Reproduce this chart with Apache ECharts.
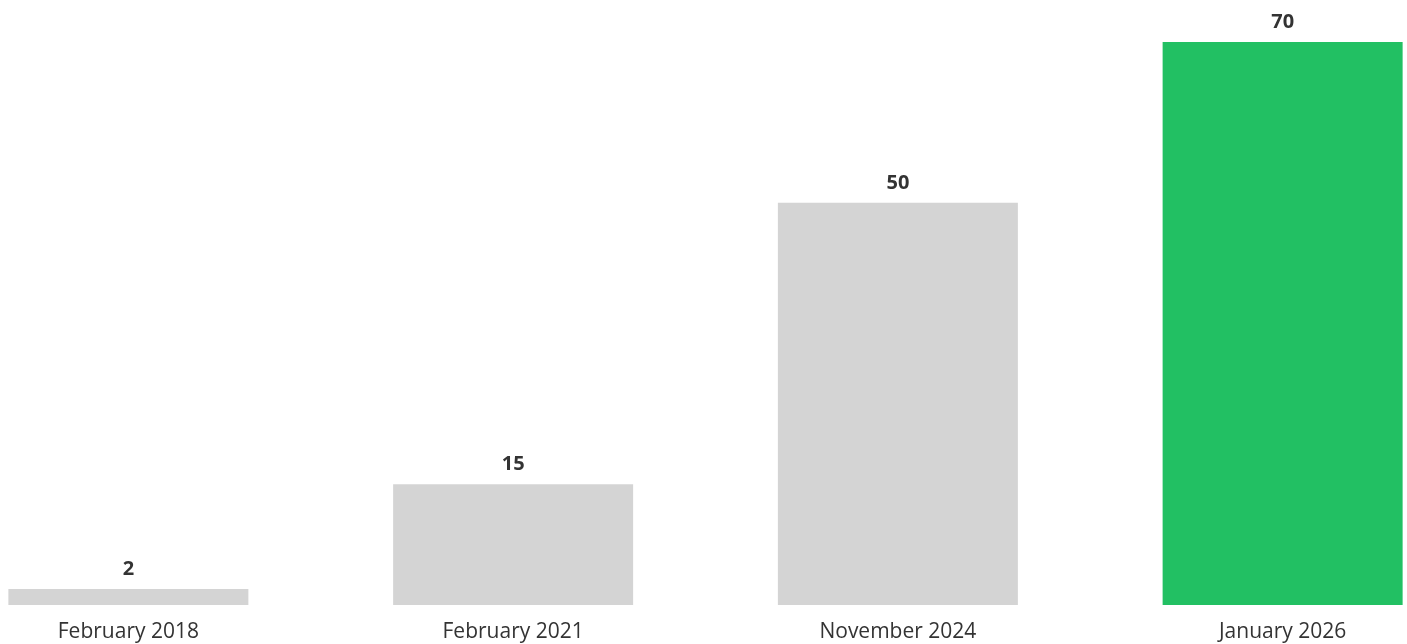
<!DOCTYPE html>
<html>
<head>
<meta charset="utf-8">
<script src="https://cdn.jsdelivr.net/npm/echarts@6/dist/echarts.min.js"></script>
<style>
    html, body { margin: 0; padding: 0; background: #fff; overflow: hidden; }
    /* plot area is wider than the window: outer bars are cut at the edges */
    #chart { width: 1539px; height: 644px; margin-left: -64px; }
</style>
</head>
<body>
<div id="chart"></div>
<script>
const categories = ['February 2018', 'February 2021', 'November 2024', 'January 2026'];
const values = [2, 15, 50, 70];
const barColors = ['#d4d4d4', '#d4d4d4', '#d4d4d4', '#22c063'];

const chart = echarts.init(document.getElementById('chart'));

const option = {
    animation: false,
    grid: {
        left: 0,
        right: 0,
        top: 42,
        bottom: 39,
        containLabel: false
    },
    xAxis: {
        type: 'category',
        data: categories,
        axisLine: { show: false },
        axisTick: { show: false },
        axisLabel: {
            margin: 17,
            fontSize: 21,
            color: '#333',
            fontFamily: 'Open Sans'
        }
    },
    yAxis: {
        type: 'value',
        min: 0,
        max: 70,
        show: false,
        splitLine: { show: false }
    },
    series: [{
        type: 'bar',
        barWidth: 240,
        data: values.map((v, i) => ({ value: v, itemStyle: { color: barColors[i] } })),
        label: {
            show: true,
            position: 'top',
            distance: 10,
            fontSize: 20,
            fontWeight: 'bold',
            color: '#333',
            fontFamily: 'Open Sans'
        }
    }]
};

chart.setOption(option);
</script>
</body>
</html>
